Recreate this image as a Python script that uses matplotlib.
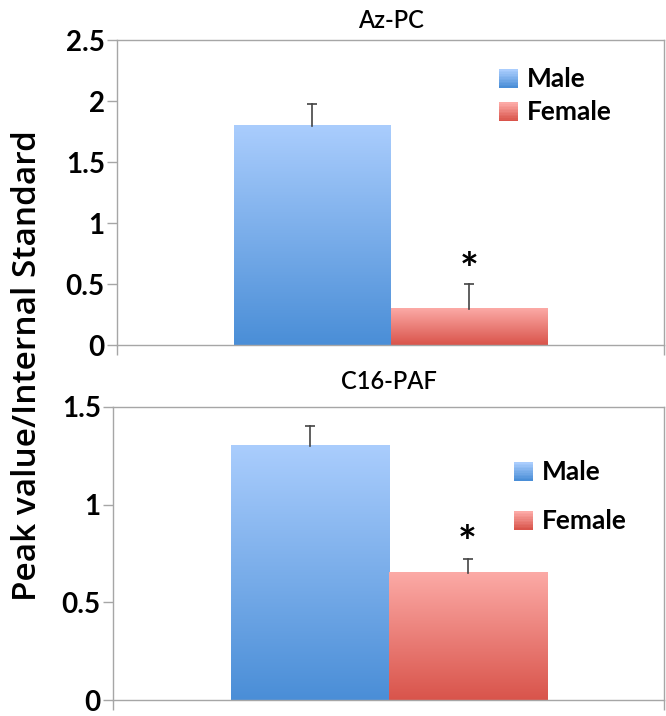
import numpy as np
import matplotlib
matplotlib.use("Agg")
from matplotlib import pyplot as plt
from matplotlib.colors import LinearSegmentedColormap
from matplotlib.legend_handler import HandlerBase
from matplotlib.patches import Rectangle

groups = ["Male", "Female"]
titles = ["Az-PC", "C16-PAF"]
means = [[1.8, 0.3], [1.3, 0.65]]
errors = [[0.18, 0.2], [0.1, 0.07]]
star_y = [0.61, 0.80]
ymax = [2.5, 1.5]
yticks = [[0, 0.5, 1, 1.5, 2, 2.5], [0, 0.5, 1, 1.5]]
tick_labels = [["0", "0.5", "1", "1.5", "2", "2.5"], ["0", "0.5", "1", "1.5"]]

grads = {
    "Male": ("#aacdfd", "#4a8ed7"),
    "Female": ("#fcaaa6", "#d9544b"),
}

plt.rcParams['font.family'] = ['Lato', 'DejaVu Sans']
grid_color = "#a6a6a6"


class GradHandler(HandlerBase):
    def __init__(self, top, bottom):
        super().__init__()
        self.top, self.bottom = top, bottom

    def create_artists(self, legend, orig_handle, xdescent, ydescent,
                       width, height, fontsize, trans):
        cmap = LinearSegmentedColormap.from_list("g", [self.bottom, self.top])
        n = 12
        side = height * 1.0
        x0 = xdescent + (width - side) / 2
        arts = []
        for i in range(n):
            r = Rectangle((x0, -ydescent + side * i / n - 0.05 * height), side, side / n + 0.3,
                          facecolor=cmap(i / (n - 1)), edgecolor='none', transform=trans)
            arts.append(r)
        return arts


def gradient_bar(ax, rect, top, bottom):
    cmap = LinearSegmentedColormap.from_list("g", [bottom, top])
    x0, y0 = rect.get_x(), rect.get_y()
    w, h = rect.get_width(), rect.get_height()
    img = np.linspace(1, 0, 256).reshape(-1, 1)
    ax.imshow(img, extent=[x0, x0 + w, y0, y0 + h], aspect='auto',
              cmap=cmap, origin='upper', zorder=2)


fig = plt.figure(figsize=(6.66, 7.16), dpi=100)
axes = [fig.add_axes([0.176, 0.518, 0.821, 0.426]),
        fig.add_axes([0.170, 0.022, 0.827, 0.410])]

width = 0.287
offsets = [-width / 2, width / 2]
anchors = [(0.655, 0.99), (0.685, 0.90)]
spacings = [0.35, 0.95]
title_pads = [9, 13]

for k, ax in enumerate(axes):
    handles = []
    for j, g in enumerate(groups):
        bars = ax.bar(offsets[j], means[k][j], width, color='none', edgecolor='none', label=g)
        gradient_bar(ax, bars[0], *grads[g])
        handles.append(bars[0])
        top = means[k][j] + errors[k][j]
        ax.plot([offsets[j], offsets[j]], [means[k][j], top], color='#444444', lw=1.2, zorder=3)
        ax.plot([offsets[j]], [top], marker='_', ms=7, mew=1.2, color='#444444', zorder=3)
    ax.text(offsets[1], star_y[k], "*", ha='center', va='center', fontsize=32,
            fontweight='bold', zorder=4)

    ax.set_xlim(-0.5, 0.5)
    ax.set_ylim(0, ymax[k])
    ax.set_yticks(yticks[k])
    ax.set_yticklabels(tick_labels[k])
    ax.set_xticks([-0.5, 0.5])
    ax.set_xticklabels([])
    ax.tick_params(axis='both', color=grid_color, length=7, width=1, labelsize=20, pad=2)
    for lab in ax.get_yticklabels():
        lab.set_fontweight('bold')
    for s in ax.spines.values():
        s.set_color(grid_color)
        s.set_linewidth(1)
    ax.set_title(titles[k], fontsize=17, pad=title_pads[k], fontweight='semibold')

    h_map = {handles[0]: GradHandler(*grads["Male"]), handles[1]: GradHandler(*grads["Female"])}
    ax.legend(handles=handles, labels=groups, loc='upper left', bbox_to_anchor=anchors[k],
              frameon=False, handler_map=h_map, handlelength=0.7, handletextpad=0.35,
              labelspacing=spacings[k], prop={'size': 19, 'weight': 'bold'})

fig.text(0.042, 0.49, "Peak value/Internal Standard", rotation=90, ha='center', va='center',
         fontsize=24, fontweight='semibold', family=['Open Sans', 'DejaVu Sans'])

fig.savefig("out.png", dpi=100)
